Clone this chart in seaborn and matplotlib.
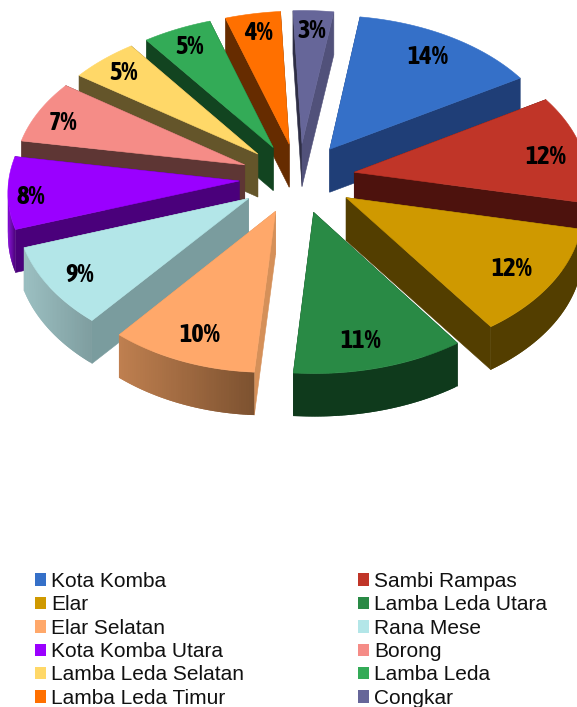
import numpy as np
import matplotlib
matplotlib.use("Agg")
import matplotlib.pyplot as plt
import seaborn as sns
from matplotlib.patches import Patch, Polygon
from matplotlib.colors import to_rgb

# data
districts = ["Kota Komba", "Sambi Rampas", "Elar", "Lamba Leda Utara", "Elar Selatan", "Rana Mese",
             "Kota Komba Utara", "Borong", "Lamba Leda Selatan", "Lamba Leda", "Lamba Leda Timur", "Congkar"]
shares = [14, 12, 12, 11, 10, 9, 8, 7, 5, 5, 4, 3]

# colours
top_colors = ["#3570C8", "#C03528", "#CF9900", "#298A45", "#FFA86A", "#B3E6E8",
              "#9A00FF", "#F58C87", "#FFD868", "#33AB57", "#FF7000", "#666699"]
side_colors = ["#1F3E77", "#4D120D", "#533E00", "#0E351A", "#D59059", "#7A9C9E",
               "#4A007B", "#5E3634", "#64552A", "#124420", "#662C00", "#51517A"]
outer_left = ["#1F3E77", "#4D120D", "#533E00", "#0F3A1C", "#C08050", "#9CC0C2",
              "#8000D4", "#5E3634", "#64552A", "#124420", "#662C00", "#51517A"]
outer_right = ["#1F3E77", "#4D120D", "#533E00", "#0F3A1C", "#7D5230", "#7F9EA0",
               "#4A007B", "#5E3634", "#64552A", "#124420", "#662C00", "#51517A"]

# where the labels sit, pixels
label_pos = [(428, 57), (546, 157), (512, 269), (361, 340), (200, 335), (80, 274),
             (31, 196), (63, 122), (124, 73), (190, 46), (258, 33), (312, 30)]

# view of the 3d pie
CX, CY = 299, 178
RX_RIGHT, RX_LEFT, RY = 234, 231, 146
PERSP_RIGHT, PERSP_LEFT = 0.065, 0.03
PERSP_Y = 0.065
LEFT_DROP = 6
EXPLODE = 0.24
LEFT_EXPLODE = 1.08
DEPTH = 43
START = 8.5


def project(px, py):
    if px > 0:
        x = CX + RX_RIGHT * px / (1 - PERSP_RIGHT * py)
    else:
        x = CX + RX_LEFT * px / (1 - PERSP_LEFT * py)
    y = CY + RY * py / (1 - PERSP_Y * py) + LEFT_DROP * max(0, -px)
    return x, y


def draw_slice(ax, a0, a1, i):
    mid = np.radians((a0 + a1) / 2)
    ox, oy = EXPLODE * np.sin(mid), -EXPLODE * np.cos(mid)
    if ox < 0:
        ox *= LEFT_EXPLODE
    angles = np.radians(np.linspace(a0, a1, 60))
    arc = np.array([project(ox + np.sin(t), oy - np.cos(t)) for t in angles])
    apex = np.array(project(ox, oy))
    down = np.array([0, DEPTH])

    # radial walls
    start_col = "#2E2E45" if districts[i] == "Congkar" else side_colors[i]
    for corner, col in ((arc[0], start_col), (arc[-1], side_colors[i])):
        ax.add_patch(Polygon([apex, corner, corner + down, apex + down], closed=True,
                             fc=col, ec=col, lw=0.4))

    # outer wall, only the part that faces the viewer
    c_l, c_r = np.array(to_rgb(outer_left[i])), np.array(to_rgb(outer_right[i]))
    xs = arc[:, 0]
    span = max(xs.max() - xs.min(), 1)
    for k in range(len(arc) - 1):
        if np.cos(angles[k]) > 0.03 and np.cos(angles[k + 1]) > 0.03:
            continue
        f = (xs[k] - xs.min()) / span
        col = c_l + (c_r - c_l) * f
        # overlap the next band so no seams show
        k2 = min(k + 2, len(arc) - 1)
        ax.add_patch(Polygon([arc[k], arc[k2], arc[k2] + down, arc[k] + down], closed=True,
                             fc=col, ec="none", lw=0))

    # top face
    ax.add_patch(Polygon(np.vstack([apex, arc]), closed=True, fc=top_colors[i], ec=top_colors[i], lw=0.4))


sns.set_theme(style="white")
plt.rcParams["font.family"] = ["Liberation Sans", "DejaVu Sans"]

fig = plt.figure(figsize=(5.77, 7.07), dpi=100)
ax = fig.add_axes([0, 0, 1, 1])
ax.set_xlim(0, 577)
ax.set_ylim(707, 0)
ax.axis("off")

edges = START + np.cumsum([0] + shares) * 3.6
order = sorted(range(len(shares)), key=lambda n: -np.cos(np.radians((edges[n] + edges[n + 1]) / 2)))
for i in order:
    draw_slice(ax, edges[i], edges[i + 1], i)

for i, (x, y) in enumerate(label_pos):
    ax.text(x, y, f"{shares[i]}%", ha="center", va="center", fontsize=19, fontweight="bold",
            family=["Asap Condensed", "Open Sans"], color="black")

palette = sns.color_palette(top_colors)
handles = [Patch(fc=palette[i], ec="none", label=districts[i]) for i in range(len(districts))]
# legend fills by column, the reference reads by row
handles = handles[::2] + handles[1::2]
ax.legend(handles=handles, ncol=2, loc="upper left", bbox_to_anchor=(35, 572), bbox_transform=ax.transData,
          frameon=False, fontsize=15, borderpad=0, borderaxespad=0, labelspacing=0.21,
          handlelength=0.53, handleheight=0.53, handletextpad=0.26, columnspacing=5.45,
          labelcolor="#111111")

fig.savefig("out.png", dpi=100)
